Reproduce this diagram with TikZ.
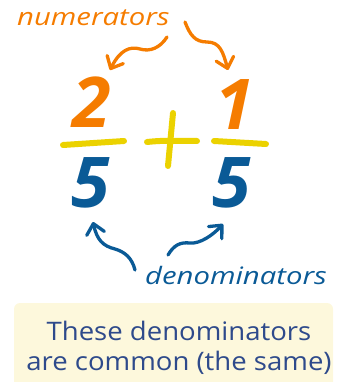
\documentclass[tikz,border=0pt]{standalone}
\usepackage{fontspec}
\setmainfont{Open Sans}
\usetikzlibrary{arrows.meta}
\definecolor{numorange}{HTML}{F57C00}
\definecolor{baryellow}{HTML}{EBD200}
\definecolor{denblue}{HTML}{0A5A96}
\definecolor{boxtext}{HTML}{2E4A8B}
\definecolor{boxfill}{HTML}{FDF8DC}
\newfontfamily\labelfont[FakeStretch=1.22]{Open Sans}
\newfontfamily\digitfont{Open Sans}
\newfontfamily\boxfont[FakeStretch=1.08]{Open Sans}
\begin{document}
\begin{tikzpicture}[x=1pt,y=-1pt,
  lbl/.style={inner sep=0pt, anchor=base west, font=\labelfont\itshape\fontsize{24}{24}\selectfont},
  digit/.style={inner sep=0pt, anchor=base, font=\digitfont\bfseries\itshape\fontsize{70}{70}\selectfont},
  boxline/.style={inner sep=0pt, anchor=base, text=boxtext, font=\boxfont\fontsize{25.5}{25.5}\selectfont},
  curly/.style={line width=3.3pt, line cap=round, line join=round,
    -{Straight Barb[length=10pt,width=18pt,line cap=round,line join=round]}},
  bar/.style={baryellow, line width=6pt, line cap=round}]
\useasboundingbox (0,0) rectangle (344,382);
% note box
\fill[boxfill, rounded corners=6pt] (14,390) -- (14,303) -- (333,303) [sharp corners] -- (333,390) -- cycle;
\node[boxline] (l1) at (179,340) {These denominators};
\node[boxline] (l2) at (179,370) {are common (the same)};
% labels
\node[lbl, text=numorange] (num) at (17,26) {numerators};
\node[lbl, text=denblue] (den) at (145,284) {denominators};
% digits
\node[digit, text=numorange] (n1) at (92,128) {2};
\node[digit, text=numorange] (n2) at (235,130) {1};
\node[digit, text=denblue] (d1) at (91,207) {5};
\node[digit, text=denblue] (d2) at (232,207) {5};
% bars and plus
\draw[bar] (63,145) -- (124,141);
\draw[bar] (214,141) -- (266,144);
\draw[bar] (147,142) .. controls (165,140) and (180,141) .. (197,141);
\draw[bar] (173,113) -- (168,166);
% arrow ends
\coordinate (na) at (167,37);
\coordinate (nat) at (110,70);
\coordinate (nb) at (185,22);
\coordinate (nbt) at (228,70);
\coordinate (da) at (135,270);
\coordinate (dat) at (93,222);
\coordinate (db) at (168,255);
\coordinate (dbt) at (223,224);
\draw[curly, numorange] (na) .. controls (160,48) and (150,52) .. (140,49) .. controls (130,46) and (120,50) .. (nat);
\draw[curly, numorange] (nb) .. controls (190,35) and (195,42) .. (207,42) .. controls (220,42) and (223,52) .. (nbt);
\draw[curly, denblue] (da) .. controls (132,258) and (125,252) .. (115,249) .. controls (103,246) and (97,240) .. (dat);
\draw[curly, denblue] (db) .. controls (174,245) and (180,242) .. (190,243) .. controls (200,244) and (213,235) .. (dbt);
\end{tikzpicture}
\end{document}
